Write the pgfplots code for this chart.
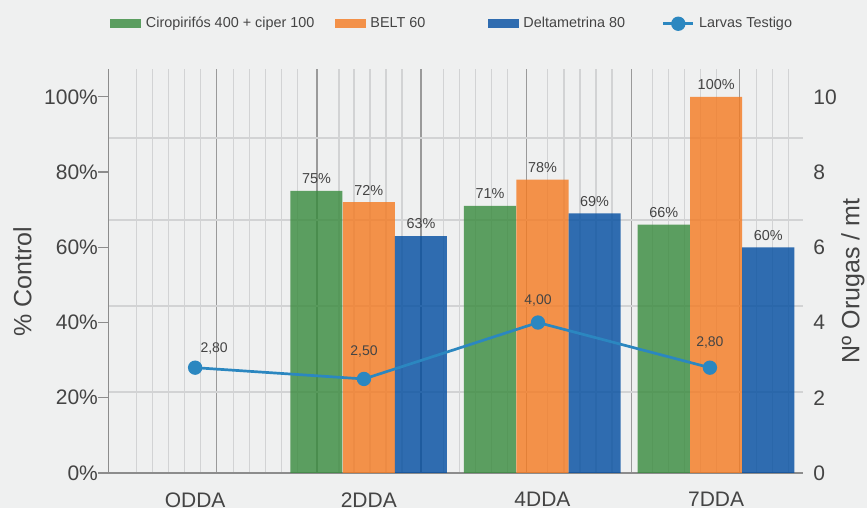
\documentclass[border=0pt]{standalone}
\usepackage{fontspec}
\setmainfont{Liberation Sans}
\usepackage{pgfplots}
\usepackage{pgfplotstable}
\pgfplotsset{compat=1.18}

\definecolor{bgc}{HTML}{EFF0F0}
\definecolor{cgreen}{HTML}{378A3C}
\definecolor{corange}{HTML}{F47A20}
\definecolor{cblue}{HTML}{004CA0}
\definecolor{cline}{HTML}{2B87C0}
\definecolor{txt}{HTML}{444444}
\definecolor{axc}{HTML}{8C8C8C}
\definecolor{gridl}{HTML}{D2D3D4}
\definecolor{gridd}{HTML}{9A9A9A}

% line series: x, value, label shift (pt)
\pgfplotstableread{
x      y    dx   dy
0.000  2.8  9.5  9.5
0.972  2.5  0    13.5
1.974  4.0  0    11
2.964  2.8  0    12.5
}\larvas

\pgfplotsset{
  common/.style={
    scale only axis, width=347.35pt, height=202pt,
    at={(0,0)}, anchor=south west,
    /pgf/number format/assume math mode=true,
    tick label style={font=\fontsize{10.5}{12}\selectfont, text=txt},
  },
}

\begin{document}
\begin{tikzpicture}
\fill[bgc] (-54.15pt,-17.5pt) rectangle (379.35pt,236.5pt);

% grid (pixel units of the original)
\begin{axis}[common,
  xmin=108.3, xmax=803, ymin=0, ymax=404,
  axis line style={draw=none}, major tick length=0pt,
  xtick={216.3,317,421,526.7,631.7,739.3}, xticklabels={},
  xmajorgrids, major grid style={gridd, line width=0.55pt},
  extra x ticks={136.3,152.3,168.3,184.3,200.3,233.3,249.3,265.3,281.3,297.3,
    339,354,370,386,402,443.3,459.3,475.3,491.3,507.3,547.7,564,580,596,612,
    652.3,668.3,684.3,700.3,716.3,756.7,772.3,788.3},
  extra x tick labels={},
  extra x tick style={xmajorgrids=true, major grid style={gridl, line width=0.55pt}},
  ytick=\empty,
  extra y ticks={81,167,253,335}, extra y tick labels={},
  extra y tick style={ymajorgrids=true, major grid style={gridl, line width=0.75pt}},
]
\end{axis}

% bars, left axis
\begin{axis}[common,
  xmin=-0.5, xmax=3.5, ymin=0, ymax=107.4,
  axis x line*=bottom, axis y line*=left,
  axis line style={axc, line width=0.75pt},
  xtick={0,1,2,3}, xticklabels={ODDA,2DDA,4DDA,7DDA},
  x tick style={draw=none},
  xticklabel style={anchor=north, inner sep=0pt, yshift=-4.5pt},
  ytick={0,20,...,100}, yticklabel={\pgfmathprintnumber{\tick}\%},
  y tick style={axc, line width=0.6pt}, tick align=outside, major tick length=5pt,
  yticklabel style={anchor=east, inner sep=0pt},
  ylabel={\% Control},
  every axis y label/.style={at={(axis description cs:-0.1235,0.473)}, rotate=90, anchor=center,
    font=\fontsize{12.5}{14}\selectfont, text=txt},
  bar width=0.3,
  nodes near coords={\pgfmathprintnumber{\pgfplotspointmeta}\%},
  every node near coord/.append style={font=\fontsize{7.2}{8}\selectfont, text=txt,
    text opacity=1, anchor=south, inner sep=0pt, yshift=3.3pt},
  legend style={at={(axis description cs:-0.0061,1.112)}, anchor=west, draw=none, fill=none,
    font=\fontsize{7.2}{8}\selectfont, text=txt, legend columns=4,
    /tikz/every odd column/.append style={column sep=2.25pt},
    nodes={inner sep=0pt}},
  legend cell align=left,
]
\addplot[ybar, bar shift=-0.302, fill=cgreen, fill opacity=0.8, draw=none,
  every node near coord/.append style={xshift=-26.2pt},
  legend image code/.code={\fill[cgreen] (0pt,-2.25pt) rectangle (15.5pt,2.25pt);}]
  coordinates {(1,75) (2,71) (3,66)};
\addplot[ybar, bar shift=0, fill=corange, fill opacity=0.8, draw=none,
  legend image code/.code={\fill[corange] (0pt,-2.25pt) rectangle (15.5pt,2.25pt);}]
  coordinates {(1,72) (2,78) (3,100)};
\addplot[ybar, bar shift=0.3, fill=cblue, fill opacity=0.8, draw=none,
  every node near coord/.append style={xshift=26.05pt},
  legend image code/.code={\fill[cblue] (0pt,-2.25pt) rectangle (15.5pt,2.25pt);}]
  coordinates {(1,63) (2,69) (3,60)};
\addlegendimage{legend image code/.code={\draw[cline, line width=1.35pt, mark=*, mark size=2.9pt,
    mark repeat=2, mark phase=2] plot coordinates {(0pt,0pt) (7.5pt,0pt) (15pt,0pt)};}}
\legend{\makebox[94.5pt][l]{Ciropirifós 400 + ciper 100},
  \makebox[58.75pt][l]{BELT 60},
  \makebox[69.25pt][l]{Deltametrina 80},
  Larvas Testigo}
\end{axis}

% line, right axis
\begin{axis}[common,
  xmin=-0.5, xmax=3.5, ymin=0, ymax=10.74,
  axis x line=none, axis y line*=right,
  axis line style={draw=none},
  ytick={0,2,...,10}, major tick length=0pt,
  yticklabel style={anchor=west, inner sep=0pt, xshift=5pt},
  ylabel={Nº Orugas / mt},
  every axis y label/.style={at={(axis description cs:1.072,0.475)}, rotate=90, anchor=center,
    font=\fontsize{12.5}{14}\selectfont, text=txt},
]
\addplot[cline, line width=1.35pt, mark=*, mark size=2.9pt,
  visualization depends on={\thisrow{dx}\as\dx},
  visualization depends on={\thisrow{dy}\as\dy},
  point meta=\thisrow{y},
  nodes near coords={\pgfmathprintnumber[use comma,fixed,fixed zerofill,precision=2]{\pgfplotspointmeta}},
  every node near coord/.append style={font=\fontsize{7}{8}\selectfont, text=txt,
    anchor=center, inner sep=0pt, xshift=\dx pt, yshift=\dy pt}]
  table[x=x, y=y] {\larvas};
\end{axis}

\pgfresetboundingbox
\path[use as bounding box] (-54.15pt,-17.5pt) rectangle (379.35pt,236.5pt);
\end{tikzpicture}
\end{document}
